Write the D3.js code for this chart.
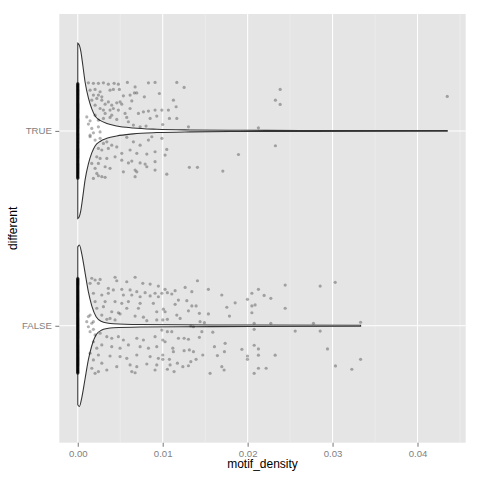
<!DOCTYPE html>
<html>
<head>
<meta charset="utf-8">
<script src="https://cdn.jsdelivr.net/npm/d3@7"></script>
<style>
  body { margin: 0; background: #fff; }
  svg { display: block; font-family: "Liberation Sans", Arial, sans-serif; }
</style>
</head>
<body>
<svg width="480" height="480"></svg>
<script>
const groups = ['FALSE', 'TRUE'];
const xTicks = [0, 0.01, 0.02, 0.03, 0.04];
const xMinor = [0.005, 0.015, 0.025, 0.035, 0.045];

// observations at exactly 0 -> the black column
const falseZeros = 290;
const trueZeros = 280;

// jittered points: motif_density and vertical jitter (category units, + is up)
const trueDensity = [
  0.00125, 0.00184, 0.00243, 0.00302, 0.0036, 0.00428, 0.00478, 0.00584, 0.00675, 0.00832,
  0.0091, 0.01166, 0.01252, 0.00145, 0.00204, 0.00263, 0.0038, 0.00419, 0.0049, 0.00667,
  0.00695, 0.00784, 0.00961, 0.00184, 0.00243, 0.00283, 0.00537, 0.00616, 0.01126, 0.00165,
  0.00224, 0.00283, 0.0036, 0.00459, 0.00498, 0.00636, 0.01158, 0.00204, 0.00322, 0.004,
  0.00518, 0.00616, 0.00714, 0.00773, 0.00832, 0.0091, 0.0099, 0.01067, 0.00263, 0.00302,
  0.0038, 0.00419, 0.00478, 0.00557, 0.00852, 0.01079, 0.01166, 0.00204, 0.00322, 0.004,
  0.00577, 0.0093, 0.00145, 0.00243, 0.00302, 0.0038, 0.00459, 0.00596, 0.00655, 0.00734,
  0.00804, 0.02127, 0.02383, 0.02327, 0.02383, 0.0435, 0.00125, 0.00165, 0.00184, 0.00145,
  0.00243, 0.00263, 0.00106, 0.01, 0.01303, 0.00145, 0.00204, 0.00263, 0.00302, 0.00342,
  0.004, 0.00459, 0.00577, 0.00655, 0.00832, 0.00872, 0.0099, 0.01048, 0.00616, 0.00734,
  0.00243, 0.00283, 0.0036, 0.00518, 0.00695, 0.00813, 0.0091, 0.01028, 0.00224, 0.00263,
  0.00342, 0.00439, 0.00518, 0.00596, 0.00636, 0.00734, 0.00793, 0.00813, 0.0091, 0.00165,
  0.00243, 0.00322, 0.0038, 0.00537, 0.00675, 0.00695, 0.0091, 0.01048, 0.01314, 0.01409,
  0.01708, 0.00204, 0.00224, 0.00283, 0.00184, 0.00243, 0.00322, 0.00675, 0.02327, 0.01892
];
const trueJitter = [
  0.247, 0.244, 0.244, 0.247, 0.240, 0.244, 0.240, 0.249, 0.226, 0.247,
  0.249, 0.249, 0.223, 0.209, 0.213, 0.201, 0.209, 0.213, 0.213, 0.195,
  0.195, 0.175, 0.192, 0.184, 0.184, 0.175, 0.180, 0.184, 0.158, 0.158,
  0.167, 0.158, 0.149, 0.144, 0.149, 0.154, 0.124, 0.132, 0.137, 0.132,
  0.137, 0.115, 0.090, 0.098, 0.102, 0.107, 0.107, 0.107, 0.115, 0.107,
  0.107, 0.115, 0.107, 0.090, 0.064, 0.064, 0.064, 0.081, 0.090, 0.081,
  0.069, 0.076, 0.052, 0.055, 0.064, 0.069, 0.059, 0.047, 0.030, 0.021,
  0.025, 0.016, 0.213, 0.158, 0.136, 0.177, 0.035, 0.013, -0.010, -0.022,
  0.021, -0.005, 0.072, 0.033, 0.021, -0.030, -0.047, -0.038, -0.064, -0.056,
  -0.073, -0.082, -0.033, -0.056, -0.047, -0.030, -0.038, -0.095, -0.098, -0.073,
  -0.090, -0.098, -0.090, -0.115, -0.115, -0.119, -0.107, -0.124, -0.133, -0.141,
  -0.141, -0.133, -0.150, -0.164, -0.155, -0.164, -0.170, -0.184, -0.158, -0.167,
  -0.167, -0.184, -0.192, -0.210, -0.201, -0.210, -0.201, -0.222, -0.187, -0.187,
  -0.206, -0.192, -0.218, -0.235, -0.244, -0.230, -0.238, -0.235, -0.076, -0.121
];

const falseDensity = [
  0.00165, 0.00204, 0.00263, 0.00439, 0.00459, 0.00577, 0.00675, 0.00766, 0.00852, 0.00949,
  0.00145, 0.00243, 0.0036, 0.00419, 0.00518, 0.00616, 0.00695, 0.00793, 0.0091, 0.00184,
  0.00283, 0.0036, 0.00537, 0.00636, 0.00734, 0.00852, 0.00949, 0.00204, 0.00322, 0.00439,
  0.00518, 0.00596, 0.00734, 0.0089, 0.00224, 0.00302, 0.004, 0.00478, 0.00577, 0.00714,
  0.0093, 0.00283, 0.0038, 0.00498, 0.00675, 0.00773, 0.00125, 0.00184, 0.00342, 0.00439,
  0.00813, 0.0093, 0.00125, 0.00165, 0.00184, 0.00106, 0.00145, 0.00145, 0.00204, 0.00263,
  0.00342, 0.004, 0.00478, 0.00537, 0.00695, 0.00773, 0.0091, 0.00184, 0.00224, 0.00283,
  0.004, 0.00498, 0.00596, 0.00734, 0.00832, 0.0093, 0.00145, 0.00243, 0.0038, 0.00498,
  0.00577, 0.00695, 0.00852, 0.00949, 0.00184, 0.00283, 0.00459, 0.00616, 0.00695, 0.00813,
  0.0093, 0.00165, 0.00243, 0.00342, 0.00636, 0.00675, 0.0091, 0.00204, 0.01028, 0.01055,
  0.01107, 0.01146, 0.01264, 0.01409, 0.01538, 0.01696, 0.0099, 0.01185, 0.01284, 0.01343,
  0.01146, 0.01343, 0.01393, 0.01303, 0.01432, 0.01538, 0.01755, 0.01853, 0.01998, 0.01786,
  0.01008, 0.01028, 0.01055, 0.01166, 0.01205, 0.0144, 0.01491, 0.01001, 0.0099, 0.01055,
  0.01107, 0.01331, 0.01362, 0.01461, 0.0159, 0.01001, 0.01028, 0.01185, 0.01252, 0.01303,
  0.01432, 0.01609, 0.01735, 0.01932, 0.01119, 0.01126, 0.01252, 0.01314, 0.01362, 0.01472,
  0.01644, 0.01727, 0.01998, 0.01001, 0.01001, 0.01079, 0.01173, 0.01087, 0.01237, 0.01303,
  0.01393, 0.01331, 0.01696, 0.01723, 0.01998, 0.01055, 0.01134, 0.01558, 0.02127, 0.0205,
  0.02442, 0.02854, 0.03031, 0.02194, 0.02273, 0.0205, 0.02088, 0.0205, 0.02442, 0.02077,
  0.02273, 0.02775, 0.0333, 0.02077, 0.0256, 0.02854, 0.02077, 0.02127, 0.0294, 0.02127,
  0.02324, 0.0333, 0.02127, 0.02218, 0.03034, 0.03227, 0.02077
];
const falseJitter = [
  0.244, 0.235, 0.238, 0.249, 0.231, 0.226, 0.249, 0.218, 0.214, 0.204,
  0.218, 0.218, 0.192, 0.184, 0.187, 0.184, 0.175, 0.170, 0.167, 0.167,
  0.158, 0.167, 0.158, 0.158, 0.149, 0.153, 0.149, 0.124, 0.124, 0.124,
  0.115, 0.124, 0.115, 0.115, 0.090, 0.098, 0.072, 0.067, 0.090, 0.090,
  0.072, 0.055, 0.038, 0.061, 0.050, 0.044, 0.047, 0.021, 0.033, 0.030,
  0.026, 0.030, -0.005, 0.013, -0.018, 0.021, 0.055, -0.030, -0.047, -0.038,
  -0.056, -0.064, -0.056, -0.073, -0.064, -0.073, -0.056, -0.082, -0.115, -0.098,
  -0.107, -0.115, -0.098, -0.107, -0.115, -0.107, -0.141, -0.150, -0.155, -0.158,
  -0.167, -0.150, -0.158, -0.167, -0.175, -0.192, -0.210, -0.201, -0.210, -0.196,
  -0.201, -0.218, -0.235, -0.227, -0.235, -0.241, -0.227, -0.244, 0.187, 0.170,
  0.163, 0.180, 0.197, 0.231, 0.187, 0.158, 0.167, 0.132, 0.129, 0.175,
  0.110, 0.102, 0.102, 0.077, 0.064, 0.061, 0.095, 0.118, 0.136, 0.050,
  0.085, 0.072, 0.033, 0.055, 0.038, 0.021, 0.016, 0.030, -0.022, -0.030,
  -0.030, -0.001, -0.005, -0.030, -0.033, -0.073, -0.082, -0.064, -0.064, -0.069,
  -0.059, -0.107, -0.090, -0.121, -0.115, -0.133, -0.128, -0.124, -0.133, -0.150,
  -0.153, -0.133, -0.155, -0.150, -0.172, -0.172, -0.192, -0.201, -0.210, -0.205,
  -0.172, -0.184, -0.210, -0.227, -0.172, -0.223, -0.235, -0.244, 0.187, 0.167,
  0.209, 0.204, 0.223, 0.156, 0.141, 0.102, 0.107, 0.067, 0.090, 0.013,
  0.013, 0.013, 0.018, -0.018, -0.027, -0.027, -0.100, -0.119, -0.119, -0.151,
  -0.151, -0.172, -0.218, -0.218, -0.206, -0.223, -0.244
];

// violin outlines: position and relative half-width
const trueViolinAt = [0, 0.00019, 0.00035, 0.00059, 0.00086, 0.00125, 0.00165, 0.00204,
  0.00263, 0.00342, 0.00459, 0.00651, 0.0093, 0.01323, 0.01912, 0.02618, 0.0435];
const trueViolinWidth = [1.0, 0.975, 0.912, 0.752, 0.558, 0.376, 0.251, 0.171,
  0.120, 0.085, 0.057, 0.034, 0.019, 0.011, 0.007, 0.005, 0.0035];
const falseViolinAt = [0, 0.00019, 0.00047, 0.00086, 0.00125, 0.00165, 0.00216, 0.00283,
  0.00345, 0.00419, 0.00734, 0.01205, 0.0203, 0.0333];
const falseViolinWidth = [0.90, 0.921, 0.821, 0.604, 0.387, 0.228, 0.103, 0.048,
  0.032, 0.023, 0.014, 0.011, 0.009, 0.006];

const svg = d3.select('svg');
const panel = { left: 59.3, right: 465.7, top: 14, bottom: 442.7 };

const xMax = d3.max(trueDensity.concat(falseDensity));
const pad = xMax * 0.05;
const x = d3.scaleLinear().domain([-pad, xMax + pad]).range([panel.left, panel.right]);
const y = d3.scaleLinear().domain([0.4, groups.length + 0.6]).range([panel.bottom, panel.top]);
const unit = y(0) - y(1);
const halfMax = 0.45 * unit;

const series = [
  { pos: 1, density: falseDensity, jitter: falseJitter, zeros: falseZeros, at: falseViolinAt, width: falseViolinWidth },
  { pos: 2, density: trueDensity, jitter: trueJitter, zeros: trueZeros, at: trueViolinAt, width: trueViolinWidth }
];

// panel
svg.append('rect')
  .attr('x', panel.left).attr('y', panel.top)
  .attr('width', panel.right - panel.left).attr('height', panel.bottom - panel.top)
  .attr('fill', '#e5e5e5');

svg.append('g').selectAll('line')
  .data(xMinor.filter(d => x(d) < panel.right))
  .enter().append('line')
  .attr('x1', d => x(d)).attr('x2', d => x(d))
  .attr('y1', panel.top).attr('y2', panel.bottom)
  .attr('stroke', '#f2f2f2').attr('stroke-width', 0.55);

svg.append('g').selectAll('line')
  .data(xTicks)
  .enter().append('line')
  .attr('x1', d => x(d)).attr('x2', d => x(d))
  .attr('y1', panel.top).attr('y2', panel.bottom)
  .attr('stroke', '#fff').attr('stroke-width', 1.07);

svg.append('g').selectAll('line')
  .data(series)
  .enter().append('line')
  .attr('x1', panel.left).attr('x2', panel.right)
  .attr('y1', d => y(d.pos)).attr('y2', d => y(d.pos))
  .attr('stroke', '#fff').attr('stroke-width', 1.07);

// violins
series.forEach((s) => {
  const profile = s.at.map((v, i) => [v, s.width[i]]);
  const area = d3.area()
    .x(d => x(d[0]))
    .y0(d => y(s.pos) - d[1] * halfMax)
    .y1(d => y(s.pos) + d[1] * halfMax)
    .curve(d3.curveMonotoneX);
  svg.append('path')
    .datum(profile)
    .attr('d', area)
    .attr('fill', '#fff')
    .attr('stroke', '#333')
    .attr('stroke-width', 1.07);
});

// points
const pts = svg.append('g');
series.forEach((s) => {
  const zeroPts = d3.range(s.zeros).map(i => [0, -0.245 + 0.49 * (i + 0.5) / s.zeros]);
  const spread = s.density.map((v, i) => [v, s.jitter[i]]);
  pts.selectAll(null)
    .data(zeroPts.concat(spread))
    .enter().append('circle')
    .attr('cx', d => x(d[0]))
    .attr('cy', d => y(s.pos + d[1]))
    .attr('r', 1.6)
    .attr('fill', '#000')
    .attr('fill-opacity', 0.3);
});

// axes
const xAxis = svg.append('g')
  .attr('transform', `translate(0,${panel.bottom})`)
  .call(d3.axisBottom(x).tickValues(xTicks).tickFormat(d3.format('.2f')).tickSize(4).tickPadding(3));
const yAxis = svg.append('g')
  .attr('transform', `translate(${panel.left},0)`)
  .call(d3.axisLeft(y).tickValues(series.map(s => s.pos)).tickFormat(d => groups[d - 1]).tickSize(4).tickPadding(3.5));

[xAxis, yAxis].forEach((g) => {
  g.select('.domain').remove();
  g.selectAll('.tick line').attr('stroke', '#7f7f7f').attr('stroke-width', 1.07);
  g.selectAll('.tick text').attr('fill', '#7f7f7f').style('font-size', '9.6px');
});

svg.append('text')
  .attr('x', (panel.left + panel.right) / 2).attr('y', 468)
  .attr('text-anchor', 'middle').style('font-size', '12px')
  .text('motif_density');

svg.append('text')
  .attr('transform', `translate(17,${(panel.top + panel.bottom) / 2}) rotate(-90)`)
  .attr('text-anchor', 'middle').style('font-size', '12px')
  .text('different');
</script>
</body>
</html>
